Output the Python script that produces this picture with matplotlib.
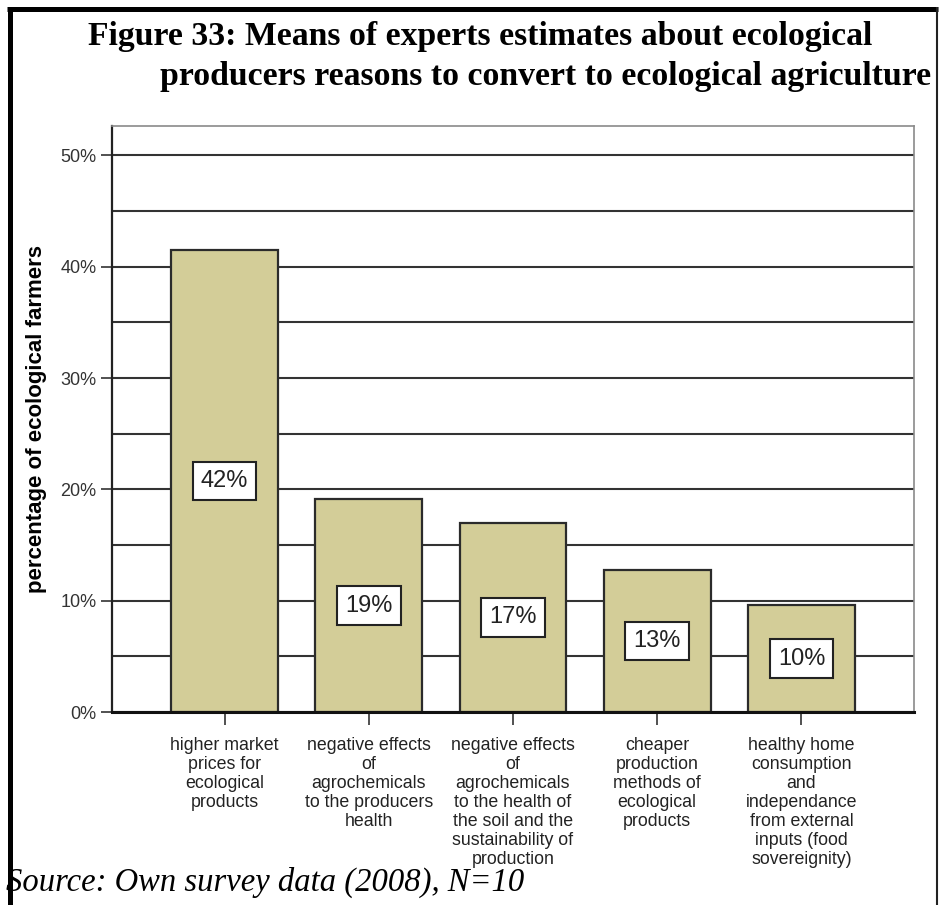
import matplotlib
matplotlib.use("Agg")
import matplotlib.pyplot as plt
from matplotlib.lines import Line2D
import numpy as np

categories = [
    "higher market\nprices for\necological\nproducts",
    "negative effects\nof\nagrochemicals\nto the producers\nhealth",
    "negative effects\nof\nagrochemicals\nto the health of\nthe soil and the\nsustainability of\nproduction",
    "cheaper\nproduction\nmethods of\necological\nproducts",
    "healthy home\nconsumption\nand\nindependance\nfrom external\ninputs (food\nsovereignity)",
]
values = [41.5, 19.1, 17.0, 12.8, 9.6]
value_labels = ["42%", "19%", "17%", "13%", "10%"]
y_ticks = [0, 10, 20, 30, 40, 50]
y_ticklabels = ["0%", "10%", "20%", "30%", "40%", "50%"]

W, H = 939, 905
fig = plt.figure(figsize=(W / 100, H / 100), dpi=100)
fig.patch.set_facecolor("white")

ax = fig.add_axes([112 / W, 1 - 712 / H, (914 - 112) / W, (712 - 126) / H])
x = np.arange(len(categories))
ax.bar(x, values, width=0.74, color="#D3CD98", edgecolor="#2b2b2b", linewidth=1.6, zorder=3)

ax.set_xlim(-0.78, 4.78)
ax.set_ylim(0, 52.65)
ax.set_yticks(y_ticks)
ax.set_yticklabels(y_ticklabels, fontsize=13, color="#333333", family="Liberation Sans")
ax.set_yticks([5, 15, 25, 35, 45], minor=True)
ax.tick_params(axis="y", which="minor", length=0)
ax.tick_params(axis="y", which="major", direction="out", length=8, width=1.2, color="#333333", pad=3)
ax.grid(axis="y", which="both", color="#333333", linewidth=1.5, zorder=0)
ax.set_axisbelow(True)

ax.set_xticks(x)
ax.set_xticklabels(categories, fontsize=12.8, color="#222222", family="Liberation Sans", linespacing=1.15)
ax.tick_params(axis="x", direction="out", length=9, width=1.2, color="#333333", pad=9)

for s in ["top", "right"]:
    ax.spines[s].set_color("#8a8a8a")
    ax.spines[s].set_linewidth(1.2)
ax.spines["left"].set_color("#222222")
ax.spines["left"].set_linewidth(1.6)
ax.spines["bottom"].set_color("#111111")
ax.spines["bottom"].set_linewidth(2.2)
ax.spines["bottom"].set_zorder(4)

ax.set_ylabel("percentage of ecological farmers", fontsize=16, fontweight="bold",
              family="Liberation Sans", labelpad=10)

for xi, v, lab in zip(x, values, value_labels):
    ax.text(xi, v / 2, lab, ha="center", va="center", fontsize=17, family="Liberation Sans",
            color="#222222", zorder=5,
            bbox=dict(boxstyle="square,pad=0.35", facecolor="white", edgecolor="#222222", linewidth=1.5))

# title
fig.text(88 / W, 1 - 45 / H, "Figure 33: Means of experts estimates about ecological",
         fontsize=24.3, fontweight="bold", family="Liberation Serif", ha="left", va="baseline")
fig.text(160 / W, 1 - 85 / H, "producers reasons to convert to ecological agriculture",
         fontsize=24.3, fontweight="bold", family="Liberation Serif", ha="left", va="baseline")

# source
fig.text(6 / W, 1 - 891 / H, "Source: Own survey data (2008), N=10",
         fontsize=23.5, style="italic", family="Liberation Serif", ha="left", va="baseline")

# border
fig.add_artist(Line2D([9.5 / W, 9.5 / W], [0, 1 - 7 / H], transform=fig.transFigure,
                      color="black", linewidth=3.6, solid_capstyle="butt"))
fig.add_artist(Line2D([7 / W, 938 / W], [1 - 9.5 / H, 1 - 9.5 / H], transform=fig.transFigure,
                      color="black", linewidth=3.6, solid_capstyle="butt"))
fig.add_artist(Line2D([937 / W, 937 / W], [0, 1 - 7 / H], transform=fig.transFigure,
                      color="#222222", linewidth=1.5, solid_capstyle="butt"))

fig.savefig("out.png", dpi=100, facecolor="white")
